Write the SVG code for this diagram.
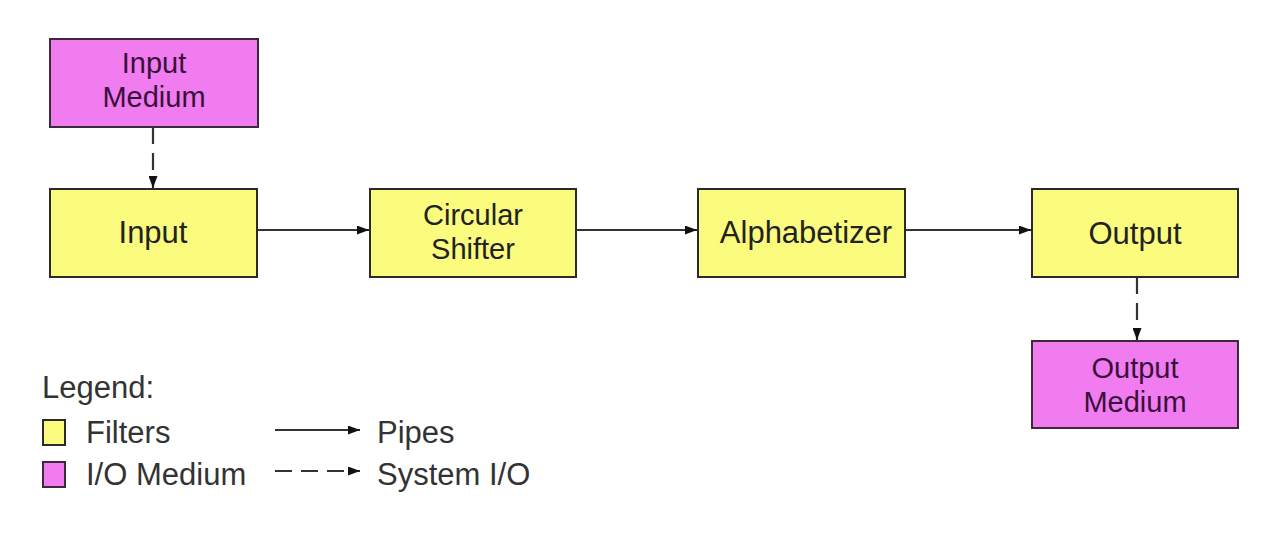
<svg xmlns="http://www.w3.org/2000/svg" width="1282" height="558" viewBox="0 0 1282 558">
<style>
.filter{fill:#fbfb7e;stroke:#2a2a2a;stroke-width:2}
.medium{fill:#f07cf0;stroke:#3a2a3a;stroke-width:2}
.t{font-family:"Liberation Sans",Arial,sans-serif;font-size:31px;fill:#222;text-anchor:middle}
.t2{font-size:29px}
.tm{fill:#3a103a}
.lt{font-family:"Liberation Sans",Arial,sans-serif;font-size:31px;fill:#333}
.pipe{stroke:#333;stroke-width:2.2;fill:none}
.sio{stroke:#333;stroke-width:2.2;fill:none;stroke-dasharray:17 9}
</style>
<defs>
<marker id="ah" viewBox="0 0 12 9" refX="12" refY="4.5" markerWidth="12" markerHeight="9" markerUnits="userSpaceOnUse" orient="auto">
<path d="M0,0 L12,4.5 L0,9 z" fill="#111"/>
</marker>
</defs>
<rect width="1282" height="558" fill="#fff"/>
<g id="connectors">
<line class="sio" x1="153" y1="127" x2="153" y2="188" marker-end="url(#ah)"/>
<line class="pipe" x1="257" y1="230" x2="369" y2="230" marker-end="url(#ah)"/>
<line class="pipe" x1="576" y1="230" x2="697" y2="230" marker-end="url(#ah)"/>
<line class="pipe" x1="905" y1="230" x2="1031" y2="230" marker-end="url(#ah)"/>
<line class="sio" x1="1137" y1="277" x2="1137" y2="340" marker-end="url(#ah)"/>
</g>
<g id="input-medium">
<rect class="medium" x="50" y="39" width="208" height="88"/>
<text class="t t2 tm" x="154" y="73">Input</text>
<text class="t t2 tm" x="154" y="107">Medium</text>
</g>
<g id="input">
<rect class="filter" x="50" y="189" width="207" height="88"/>
<text class="t" x="153" y="243">Input</text>
</g>
<g id="circular-shifter">
<rect class="filter" x="370" y="189" width="206" height="88"/>
<text class="t t2" x="473" y="225">Circular</text>
<text class="t t2" x="473" y="259">Shifter</text>
</g>
<g id="alphabetizer">
<rect class="filter" x="698" y="189" width="207" height="88"/>
<text class="t" x="806" y="243">Alphabetizer</text>
</g>
<g id="output">
<rect class="filter" x="1032" y="189" width="206" height="88"/>
<text class="t" x="1135" y="244">Output</text>
</g>
<g id="output-medium">
<rect class="medium" x="1032" y="341" width="206" height="87"/>
<text class="t t2 tm" x="1135" y="378">Output</text>
<text class="t t2 tm" x="1135" y="412">Medium</text>
</g>
<g id="legend">
<text class="lt" x="42" y="398">Legend:</text>
<rect class="filter" x="43" y="420" width="22" height="25"/>
<text class="lt" x="86" y="443">Filters</text>
<rect class="medium" x="43" y="462" width="22" height="25"/>
<text class="lt" x="86" y="485">I/O Medium</text>
<line class="pipe" x1="275" y1="430" x2="360" y2="430" marker-end="url(#ah)"/>
<text class="lt" x="377" y="443">Pipes</text>
<line class="sio" x1="275" y1="471" x2="360" y2="471" marker-end="url(#ah)"/>
<text class="lt" x="377" y="485">System I/O</text>
</g>
</svg>
